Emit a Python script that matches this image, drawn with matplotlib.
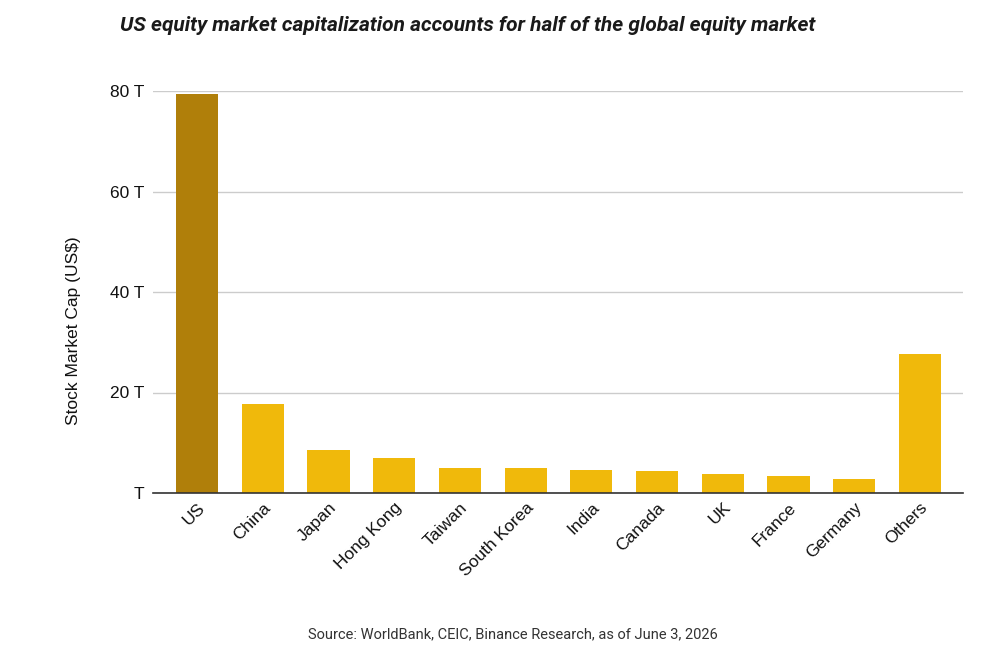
import matplotlib
matplotlib.use("Agg")
import matplotlib.pyplot as plt

countries = ["US", "China", "Japan", "Hong Kong", "Taiwan", "South Korea",
             "India", "Canada", "UK", "France", "Germany", "Others"]
market_cap_t = [79.4, 17.7, 8.5, 7.0, 4.9, 4.9, 4.6, 4.3, 3.7, 3.45, 2.85, 27.7]
y_ticks = [0, 20, 40, 60, 80]
y_tick_labels = ["T", "20 T", "40 T", "60 T", "80 T"]

highlight = "#B07F0A"
base = "#F0B90B"
colors = [highlight] + [base] * (len(countries) - 1)

fig = plt.figure(figsize=(10, 6.56), dpi=100)
ax = fig.add_axes([0.153, 1 - 493 / 656, 0.810, (493 - 91) / 656])

x = list(range(len(countries)))
ax.bar(x, market_cap_t, width=0.64, color=colors, zorder=3)

ax.set_xlim(-0.67, 11.655)
ax.set_ylim(0, 80)
ax.set_yticks(y_ticks)
ax.set_yticklabels(y_tick_labels, fontsize=12.5, family="Liberation Sans", color="#111111")
ax.yaxis.grid(True, color="#cccccc", linewidth=1, zorder=0)
ax.tick_params(axis="y", length=0, pad=6)
ax.tick_params(axis="x", length=0, pad=5)
ax.set_xticks(x)
ax.set_xticklabels(countries, rotation=45, ha="right", rotation_mode="anchor",
                   fontsize=12.5, family="Liberation Sans", color="#111111")
for s in ["top", "right", "left"]:
    ax.spines[s].set_visible(False)
ax.spines["bottom"].set_color("#333333")
ax.spines["bottom"].set_linewidth(1.2)
ax.spines["bottom"].set_zorder(4)

ax.set_ylabel("Stock Market Cap (US$)", fontsize=12.5, family="Liberation Sans",
              color="#111111")
ax.yaxis.set_label_coords(-0.089, 0.405)

fig.text(0.12, 0.961, "US equity market capitalization accounts for half of the global equity market",
         fontsize=15, fontweight="bold", fontstyle="italic", family="Roboto",
         color="#1a1a1a", ha="left", va="center")
fig.text(0.513, 0.033, "Source: WorldBank, CEIC, Binance Research, as of June 3, 2026",
         fontsize=10.5, family="Roboto", color="#333333", ha="center", va="center")

fig.savefig("out.png", dpi=100)
